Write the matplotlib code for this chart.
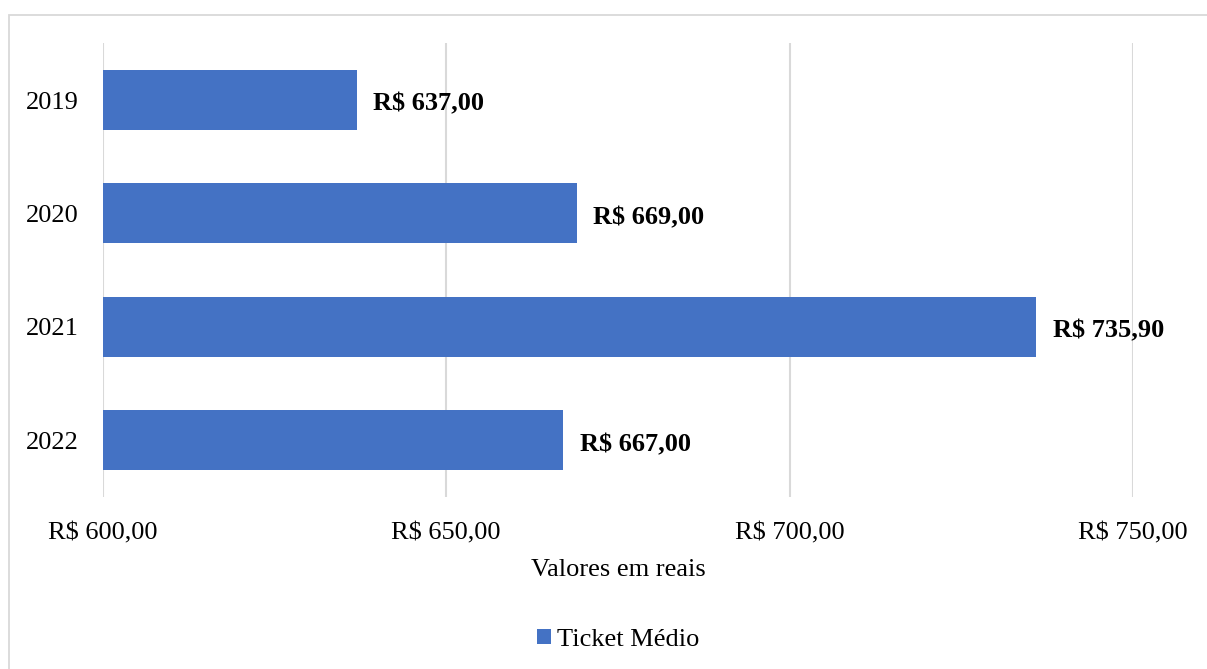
import matplotlib
matplotlib.use("Agg")
import matplotlib.pyplot as plt
from matplotlib.patches import Rectangle

# Average ticket per year (R$)
years = ["2019", "2020", "2021", "2022"]
ticket_medio = [637.00, 669.00, 735.90, 667.00]
x_ticks = [600, 650, 700, 750]
series_name = "Ticket Médio"
x_label = "Valores em reais"

BAR_COLOR = "#4472C4"
GRID_COLOR = "#D9D9D9"
FONT_SIZE = 19


def brl(v):
    s = f"{v:,.2f}"
    s = s.replace(",", "X").replace(".", ",").replace("X", ".")
    return f"R$ {s}"


plt.rcParams["font.family"] = ["Liberation Serif", "DejaVu Serif"]

fig = plt.figure(figsize=(12.07, 6.69), dpi=100)
fig.patch.set_facecolor("white")

# outer chart frame
frame = Rectangle((8.5 / 1207, -0.2), 1.2, 1.2 - 14.5 / 669,
                  transform=fig.transFigure, fill=False,
                  edgecolor=GRID_COLOR, linewidth=1.3, zorder=0)
fig.patches.append(frame)

ax = fig.add_axes([102.5 / 1207, 1 - 497 / 669,
                   (1133.3 - 102.5) / 1207, (497 - 43.3) / 669])

ypos = list(range(len(years)))
bars = ax.barh(ypos, ticket_medio, height=0.53, left=0,
               color=BAR_COLOR, label=series_name, zorder=2)

ax.set_xlim(x_ticks[0], x_ticks[-1])
ax.set_ylim(len(years) - 0.5, -0.5)
ax.set_yticks(ypos)
ax.set_yticklabels(years)
ax.set_xticks(x_ticks)
ax.set_xticklabels([brl(v) for v in x_ticks])

ax.tick_params(axis="both", length=0, labelsize=FONT_SIZE, colors="black")
ax.tick_params(axis="x", pad=18.5)
ax.tick_params(axis="y", pad=17)

for s in ax.spines.values():
    s.set_visible(False)

ax.grid(axis="x", color=GRID_COLOR, linewidth=1.5, zorder=0)
ax.set_axisbelow(True)

for y, v in zip(ypos, ticket_medio):
    ax.annotate(brl(v), xy=(v, y), xytext=(12, -3), textcoords="offset points",
                ha="left", va="center", fontsize=FONT_SIZE,
                fontweight="bold", color="black", annotation_clip=False,
                zorder=3)

ax.set_xlabel(x_label, fontsize=FONT_SIZE, labelpad=10)

fig.legend(handles=[bars], labels=[series_name], loc="center",
           bbox_to_anchor=(618 / 1207, 1 - 640 / 669), frameon=False,
           fontsize=FONT_SIZE, handlelength=0.53, handleheight=0.53,
           handletextpad=0.25, borderaxespad=0)

fig.savefig("out.png", dpi=100, facecolor="white")
